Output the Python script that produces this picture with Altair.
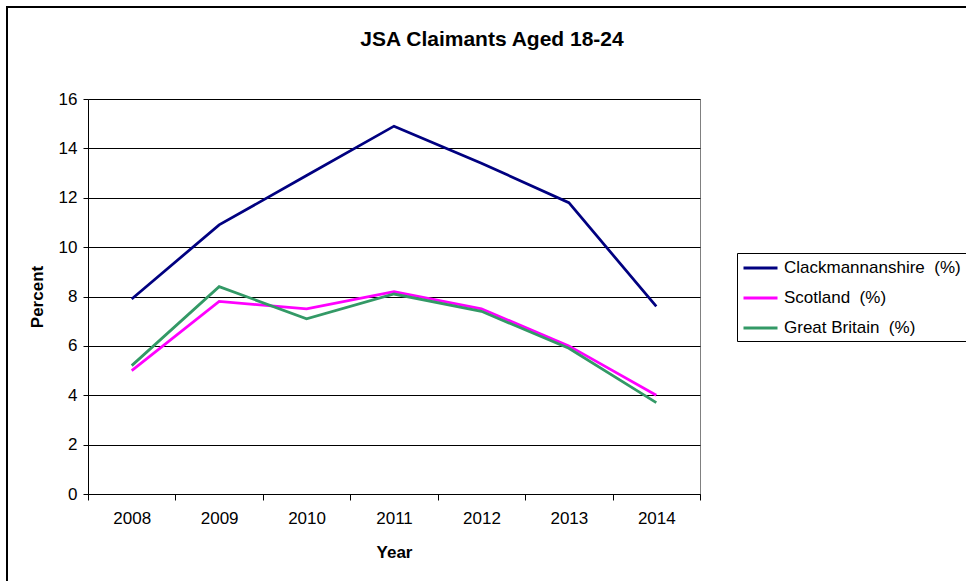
import altair as alt
import pandas as pd

# Claimant rates for 18-24 year olds, by year
years = ["2008", "2009", "2010", "2011", "2012", "2013", "2014"]
clackmannanshire = [7.9, 10.9, 12.9, 14.9, 13.4, 11.8, 7.6]
scotland = [5.0, 7.8, 7.5, 8.2, 7.5, 6.0, 4.0]
great_britain = [5.2, 8.4, 7.1, 8.1, 7.4, 5.9, 3.7]

series_names = [
    "Clackmannanshire\u00a0 (%)",
    "Scotland\u00a0 (%)",
    "Great Britain\u00a0 (%)",
]
series_colors = ["#000080", "#FF00FF", "#339966"]

rows = []
for name, values in zip(series_names, [clackmannanshire, scotland, great_britain]):
    for yr, v in zip(years, values):
        rows.append({"series": name, "year": yr, "value": v})
df = pd.DataFrame(rows)

FONT = "Liberation Sans"
PLOT_W, PLOT_H = 612, 395

lines = (
    alt.Chart(df)
    .mark_line(strokeWidth=2.75)
    .encode(
        x=alt.X(
            "year:O",
            sort=years,
            bandPosition=0.5,
            scale=alt.Scale(type="band", paddingInner=0, paddingOuter=0),
            axis=alt.Axis(
                title="Year",
                labelAngle=0,
                tickBand="extent",
                tickSize=6,
                tickColor="black",
                domainColor="black",
                labelFontSize=17,
                labelPadding=10,
                titleFontSize=17,
                titleFontWeight="bold",
                titlePadding=18,
                labelColor="black",
                titleColor="black",
            ),
        ),
        y=alt.Y(
            "value:Q",
            scale=alt.Scale(domain=[0, 16], nice=False),
            axis=alt.Axis(
                title="Percent",
                values=[0, 2, 4, 6, 8, 10, 12, 14, 16],
                grid=True,
                gridColor="black",
                gridWidth=1,
                gridOpacity=1,
                tickSize=5,
                tickColor="black",
                domainColor="black",
                labelFontSize=17,
                labelPadding=6,
                titleFontSize=17,
                titleFontWeight="bold",
                titlePadding=12,
                labelColor="black",
                titleColor="black",
            ),
        ),
        color=alt.Color(
            "series:N",
            sort=series_names,
            scale=alt.Scale(domain=series_names, range=series_colors),
            legend=alt.Legend(
                title=None,
                orient="none",
                legendX=649,
                legendY=154,
                # short horizontal stroke that starts at the entry's left edge
                symbolType="M-1,0H3",
                symbolSize=289,
                symbolStrokeWidth=3,
                labelFontSize=17,
                labelFont=FONT,
                labelColor="black",
                labelLimit=0,
                labelOffset=22,
                strokeColor="black",
                fillColor="white",
                padding=5,
                rowPadding=12,
            ),
        ),
        order=alt.Order("year:O"),
    )
)

# outer frame around the whole figure
frame = (
    alt.Chart(alt.Data(values=[{"k": 1}]))
    .mark_rect(fillOpacity=0, stroke="black", strokeWidth=2)
    .encode(
        x=alt.value(-81),
        x2=alt.value(PLOT_W + 300),
        y=alt.value(-92),
        y2=alt.value(PLOT_H + 120),
    )
)

chart = (
    alt.layer(frame, lines)
    .properties(
        width=PLOT_W,
        height=PLOT_H,
        # the frame's top edge is the title's reference, so pull it back down
        title=alt.TitleParams(
            "JSA Claimants Aged 18-24",
            anchor="middle",
            frame="group",
            baseline="alphabetic",
            dx=98,
            offset=-61,
            fontSize=21,
            fontWeight="bold",
            font=FONT,
            color="black",
        ),
        autosize=alt.AutoSizeParams(type="none"),
        padding={"left": 88, "top": 99, "right": 266, "bottom": 87},
        background="white",
    )
    .configure(font=FONT)
    .configure_view(stroke="#808080", strokeWidth=1)
)

chart.save("out.html", embed_options={"renderer": "svg", "actions": False})
